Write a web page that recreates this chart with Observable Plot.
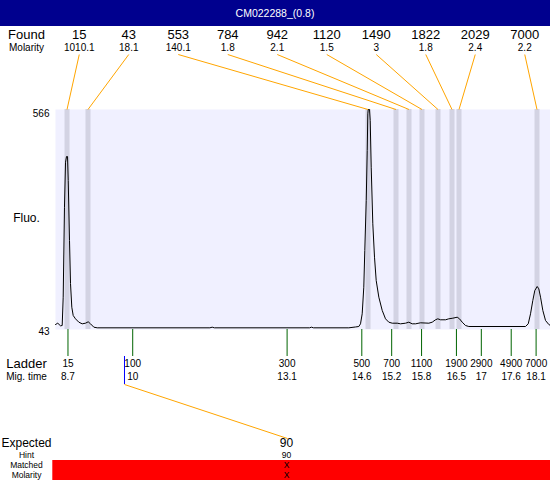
<!DOCTYPE html>
<html><head><meta charset="utf-8">
<script src="https://cdn.jsdelivr.net/npm/d3@7"></script>
<script src="https://cdn.jsdelivr.net/npm/@observablehq/plot@0.6"></script>
<style>
body{margin:0;background:#fff;font-family:"Liberation Sans",Arial,sans-serif;}
#wrap{width:550px;height:480px;overflow:hidden;}
#title{height:26px;line-height:26px;background:#00008E;color:#fff;text-align:center;font-size:10.5px;}
#chart svg{display:block;}
</style></head><body>
<div id="wrap"><div id="title"></div><div id="chart"></div></div>
<script>
const titleText = "CM022288_(0.8)";
const foundSizes = ["15","43","553","784","942","1120","1490","1822","2029","7000"];
const foundMolarity = ["1010.1","18.1","140.1","1.8","2.1","1.5","3","1.8","2.4","2.2"];
const foundTimes = [8.681, 9.102, 14.725, 15.287, 15.548, 15.809, 16.130, 16.411, 16.552, 18.118];
const ladderSizes = [15,100,300,500,700,1100,1900,2900,4900,7000];
const ladderTimes = [8.7,10,13.1,14.6,15.2,15.8,16.5,17,17.6,18.1];
const expectedSizes = ["90"];
const expectedHint = ["90"];
const expectedMatched = ["X"];
const expectedMolarity = ["X"];
const expectedTimes = [9.835];
const yTickLabels = [43, 566];
const traceTime = [8.450,8.495,8.550,8.584,8.604,8.630,8.651,8.671,8.691,8.705,8.731,8.751,8.777,8.805,8.851,8.918,8.986,9.052,9.106,9.153,9.219,9.287,11.55,11.596,11.64,13.55,13.590,13.63,14.339,14.474,14.540,14.574,14.608,14.640,14.660,14.689,14.709,14.721,14.729,14.755,14.769,14.789,14.821,14.855,14.889,14.942,15.010,15.076,15.142,15.211,15.311,15.377,15.478,15.544,15.612,15.679,15.779,15.946,16.014,16.080,16.126,16.181,16.281,16.347,16.428,16.516,16.562,16.616,16.683,16.749,17.887,17.942,17.988,18.034,18.074,18.122,18.154,18.189,18.235,18.289,18.355,18.389];
const traceFluo = [54.9,58.0,51.8,52.5,119.8,333.7,440.7,454.2,454.2,397.2,254.6,152.3,96.0,76.3,68.4,60.4,56.5,58.0,61.3,56.5,48.5,47.0,47.0,48.5,47.0,47.0,48.5,47.0,47.0,49.0,50.1,56.5,80.3,143.5,230.8,349.6,468.5,555.7,566,566,539.8,428.8,294.3,214.9,159.5,119.8,88.2,68.4,60.4,58.0,58.0,56.5,58.0,60.4,56.5,56.5,58.9,58.0,60.4,66.1,68.4,66.1,66.1,68.4,69.9,72.2,68.4,60.4,52.5,50.1,50.1,56.5,80.3,112.0,135.7,145.2,139.7,119.8,88.2,64.4,54.9,52.5];

document.getElementById("title").textContent = titleText;

const W = 550, H = 454;
const xDomain = [8.4496, 18.389], xRange = [55, 550];
const yDomain = [43, 566], yRange = [303, 83];
const xS = Plot.scale({x: {type: "linear", domain: xDomain, range: xRange}});
const yS = Plot.scale({y: {type: "linear", domain: yDomain, range: yRange}});
const X = px => xS.invert(px);
const Y = py => yS.invert(py);
const slotX = i => X(78.75 + 49.5 * i);
const labelX = X(26);

const rowLabels = [
  {t: "Found", y: 8.5, s: 13},
  {t: "Molarity", y: 20.8, s: 10},
  {t: "Ladder", y: 337, s: 13},
  {t: "Mig. time", y: 350.5, s: 10},
  {t: "Expected", y: 416.5, s: 12},
  {t: "Hint", y: 428.8, s: 8.5},
  {t: "Matched", y: 439, s: 8.5},
  {t: "Molarity", y: 449.2, s: 8.5}
];
const idx = d3.range(traceTime.length);

const chart = Plot.plot({
  width: W, height: H,
  marginLeft: 55, marginRight: 0, marginTop: 83, marginBottom: 151,
  x: {type: "linear", domain: xDomain, range: xRange, axis: null},
  y: {type: "linear", domain: yDomain, range: yRange, axis: null},
  style: {fontFamily: '"Liberation Sans", Arial, sans-serif', background: "white", overflow: "visible"},
  marks: [
    Plot.frame({fill: "#F0F0FF", stroke: "none"}),
    Plot.ruleX(foundTimes, {stroke: "#D3D3E3", strokeWidth: 5}),
    Plot.line(idx, {x: i => traceTime[i], y: i => traceFluo[i], stroke: "black", strokeWidth: 1}),
    Plot.link(foundTimes, {x1: (d, i) => slotX(i), y1: () => Y(28), x2: d => d, y2: () => Y(83), stroke: "#FFA500", strokeWidth: 1}),
    Plot.text(foundSizes, {x: (d, i) => slotX(i), y: () => Y(8.5), text: d => d, fontSize: 13}),
    Plot.text(foundMolarity, {x: (d, i) => slotX(i), y: () => Y(20.8), text: d => d, fontSize: 10}),
    Plot.text(rowLabels, {x: () => labelX, y: d => Y(d.y), text: d => d.t, fontSize: d => d.s}),
    Plot.text([yTickLabels[1]], {x: () => X(49), y: d => d, dy: 4.5, text: d => String(d), textAnchor: "end", fontSize: 10}),
    Plot.text([yTickLabels[0]], {x: () => X(49), y: d => d, dy: 2, text: d => String(d), textAnchor: "end", fontSize: 10}),
    Plot.text(["Fluo."], {x: () => labelX, y: () => Y(192), text: d => d, fontSize: 12}),
    Plot.ruleX(ladderTimes, {y1: () => Y(303), y2: () => Y(330), stroke: "#006400", strokeWidth: 1}),
    Plot.text(ladderSizes, {x: (d, i) => ladderTimes[i], y: () => Y(337), text: d => String(d), fontSize: 10}),
    Plot.text(ladderTimes, {x: d => d, y: () => Y(350.5), text: d => String(d), fontSize: 10}),
    Plot.ruleX(expectedTimes, {y1: () => Y(330), y2: () => Y(358), stroke: "#0000FF", strokeWidth: 1}),
    Plot.link(expectedTimes, {x1: d => d, y1: () => Y(358), x2: () => X(287), y2: () => Y(412), stroke: "#FFA500", strokeWidth: 1}),
    Plot.rect([0], {x1: () => X(52.3), x2: () => X(550), y1: () => Y(434), y2: () => Y(454), fill: "#FF0000"}),
    Plot.text(expectedSizes, {x: () => X(286), y: () => Y(416.5), text: d => d, fontSize: 12}),
    Plot.text(expectedHint, {x: () => X(286), y: () => Y(428.8), text: d => d, fontSize: 8.5}),
    Plot.text(expectedMatched, {x: () => X(286), y: () => Y(439), text: d => d, fontSize: 8.5}),
    Plot.text(expectedMolarity, {x: () => X(286), y: () => Y(449.2), text: d => d, fontSize: 8.5})
  ]
});
document.getElementById("chart").appendChild(chart);
</script>
</body></html>
